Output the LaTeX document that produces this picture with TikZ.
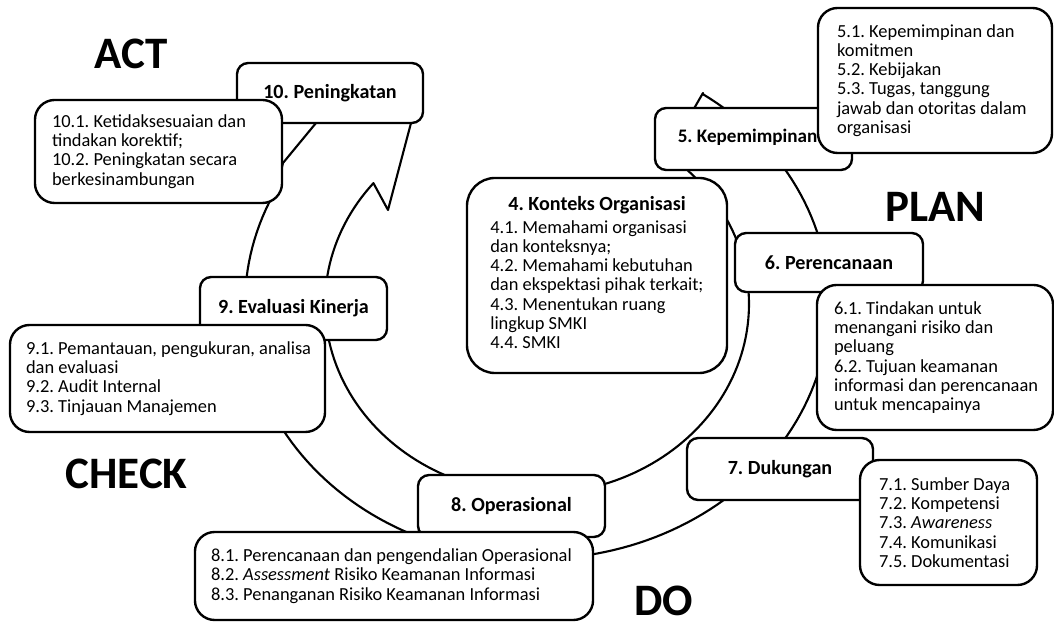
\documentclass[tikz,border=0pt]{standalone}
\usepackage{fontspec}
\setmainfont{Carlito}
\frenchspacing
\newcommand\headfont{\fontsize{14.3}{16}\selectfont\bfseries}
\newcommand\bodyfont{\fontsize{13.1}{13.7}\selectfont}
\newcommand\phasefont{\fontsize{32}{34}\selectfont\bfseries}
\newcommand\pxl{0.7113pt}

\begin{document}
\begin{tikzpicture}[x = 0.025cm, y = -0.025cm]
\tikzstyle{ring}=[
draw, fill = white,
line width = 1.5pt,
line join = round]
\tikzstyle{head}=[
draw, fill = white,
line width = 1.7pt,
rounded corners = 8pt,
font = \headfont,
inner sep = 0pt]
\tikzstyle{sub}=[
draw, fill = white,
line width = 1.7pt,
rounded corners = 14pt,
inner sep = 0pt]
\tikzstyle{subtext}=[font = \bodyfont, align = left, inner sep = 0pt, anchor = west]
\tikzstyle{phase}=[font = \phasefont, inner sep = 0pt]
\useasboundingbox (0,0) rectangle (1054,628);
\draw[ring] (703,93)
 -- plot[domain = -55.4:207, samples = 150] ({537+292*cos(\x)},{304+255*sin(\x)})
 -- (283,163) -- (316,123) -- (372,75) -- (411,123) -- (388,210)
 -- plot[domain = 219.5:-52, samples = 150] ({537+212*cos(\x)},{304+190*sin(\x)})
 -- cycle;
\node[head, minimum width = 186*\pxl, minimum height = 60*\pxl] (n10) at (330,93) {10. Peningkatan};
\node[sub, minimum width = 247*\pxl, minimum height = 103*\pxl] (s10) at (158.5,151.5) {};
\node[subtext] (s10t) at ([xshift = 18*\pxl]s10.west) {10.1. Ketidaksesuaian dan\\tindakan korektif;\\10.2. Peningkatan secara\\berkesinambungan};
\node[head, minimum width = 187*\pxl, minimum height = 63*\pxl] (n9) at (293.5,308.5) {9. Evaluasi Kinerja};
\node[sub, minimum width = 315*\pxl, minimum height = 107*\pxl] (s9) at (167.5,378.5) {};
\node[subtext] (s9t) at ([xshift = 17*\pxl]s9.west) {9.1. Pemantauan, pengukuran, analisa\\dan evaluasi\\9.2. Audit Internal\\9.3. Tinjauan Manajemen};
\node[head, minimum width = 187*\pxl, minimum height = 62*\pxl] (n8) at (511.5,506) {8. Operasional};
\node[sub, minimum width = 398*\pxl, minimum height = 88*\pxl] (s8) at (394,576) {};
\node[subtext] (s8t) at ([xshift = 17*\pxl]s8.west) {8.1. Perencanaan dan pengendalian Operasional\\8.2. \textit{Assessment} Risiko Keamanan Informasi\\8.3. Penanganan Risiko Keamanan Informasi};
\node[head, minimum width = 186*\pxl, minimum height = 62*\pxl] (n7) at (780,469) {7. Dukungan};
\node[sub, minimum width = 177*\pxl, minimum height = 125*\pxl] (s7) at (948.5,522.5) {};
\node[subtext] (s7t) at ([xshift = 20*\pxl]s7.west) {7.1. Sumber Daya\\7.2. Kompetensi\\7.3. \textit{Awareness}\\7.4. Komunikasi\\7.5. Dokumentasi};
\node[head, minimum width = 188*\pxl, minimum height = 59*\pxl] (n6) at (829,262.5) {6. Perencanaan};
\node[sub, minimum width = 236*\pxl, minimum height = 145*\pxl] (s6) at (935,357.5) {};
\node[subtext] (s6t) at ([xshift = 18*\pxl]s6.west) {6.1. Tindakan untuk\\menangani risiko dan\\peluang\\6.2. Tujuan keamanan\\informasi dan perencanaan\\untuk mencapainya};
\node[head, minimum width = 197*\pxl, minimum height = 62*\pxl] (n5) at (753.5,139) {};
\node[font = \headfont\fontsize{13.6}{15}\selectfont, inner sep = 0pt] (n5t) at (747.5,137.5) {5. Kepemimpinan};
\node[sub, minimum width = 234*\pxl, minimum height = 145*\pxl] (s5) at (935,80.5) {};
\node[subtext] (s5t) at ([xshift = 20*\pxl]s5.west) {5.1. Kepemimpinan dan\\komitmen\\5.2. Kebijakan\\5.3. Tugas, tanggung\\jawab dan otoritas dalam\\organisasi};
\node[sub, rounded corners = 20pt, minimum width = 260*\pxl, minimum height = 195*\pxl] (n4) at (597,275.5) {};
\node[font = \headfont, inner sep = 0pt] (n4h) at (597,205) {4. Konteks Organisasi};
\node[subtext] (n4t) at (490,284.5) {4.1. Memahami organisasi\\dan konteksnya;\\4.2. Memahami kebutuhan\\dan ekspektasi pihak terkait;\\4.3. Menentukan ruang\\lingkup SMKI\\4.4. SMKI};
\node[phase] (act) at (131.5,53.5) {ACT};
\node[phase] (plan) at (935,206.5) {PLAN};
\node[phase] (check) at (126.5,473.5) {CHECK};
\node[phase] (do) at (663.5,601) {DO};
\end{tikzpicture}
\end{document}
